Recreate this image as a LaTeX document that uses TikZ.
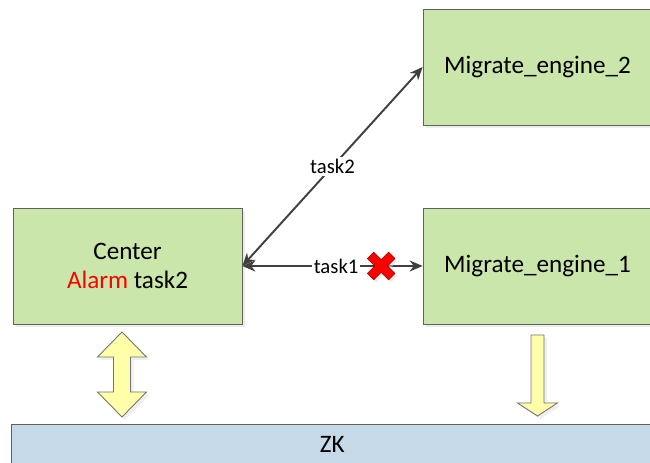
\documentclass[tikz,border=0pt]{standalone}
\usepackage{fontspec}
\setmainfont{Carlito}
\usetikzlibrary{arrows.meta,shadows}
\definecolor{boxgreen}{RGB}{202,230,170}
\definecolor{zkblue}{RGB}{198,217,233}
\definecolor{fatyellow}{RGB}{255,255,170}
\definecolor{linegray}{RGB}{64,64,64}
\definecolor{boxline}{RGB}{95,100,90}
\definecolor{alarmred}{RGB}{255,0,0}

\begin{document}
\begin{tikzpicture}[x=0.2mm,y=-0.2mm,
    box/.style={draw=boxline,fill=boxgreen,minimum width=45.8mm,minimum height=23.2mm,
      drop shadow={shadow xshift=0.6mm,shadow yshift=-0.6mm,fill=black!15},
      font=\fontsize{14.3}{17}\selectfont,align=center},
    zkbar/.style={draw=boxline,fill=zkblue,minimum width=128.4mm,minimum height=8.2mm,
      font=\fontsize{14.3}{17}\selectfont},
    link/.style={draw=linegray,line width=1.1pt,
      {Stealth[length=2.6mm,width=2.2mm]}-{Stealth[length=2.6mm,width=2.2mm]}},
    lbl/.style={fill=white,inner sep=1pt,font=\fontsize{11.8}{13}\selectfont},
    fat/.style={draw=black!55,fill=fatyellow,line width=0.5pt,
      drop shadow={shadow xshift=0.6mm,shadow yshift=-0.6mm,fill=black!12}}]
  \useasboundingbox (0,0) rectangle (650,463);
  % boxes
  \node[box] (center) at (127.5,266) {Center\\\textcolor{alarmred}{Alarm} task2};
  \node[box] (me2) at (537.5,67) {Migrate\_engine\_2};
  \node[box] (me1) at (537.5,266) {Migrate\_engine\_1};
  \node[zkbar,anchor=north west] (zk) at (11,424) {ZK};
  % tasks
  \draw[link] (center.east) -- node[lbl,pos=0.52] {task1} coordinate[pos=0.77] (cut) (me1.west);
  \draw[link] (center.east) -- node[lbl] {task2} (me2.west);
  \draw[draw=red!55!black,fill=red,line width=0.3pt,
      drop shadow={shadow xshift=0.5mm,shadow yshift=-0.5mm,fill=black!15},
      shift={(cut)},rotate=45]
    (-4.5,-15) -- (4.5,-15) -- (4.5,-4.5) -- (15,-4.5) -- (15,4.5) -- (4.5,4.5)
    -- (4.5,15) -- (-4.5,15) -- (-4.5,4.5) -- (-15,4.5) -- (-15,-4.5) -- (-4.5,-4.5) -- cycle;
  % zk arrows
  \draw[fat] (122,332) -- (146.5,357) -- (130.5,357) -- (130.5,392) -- (146.5,392) -- (122,417)
    -- (97.5,392) -- (113.5,392) -- (113.5,357) -- (97.5,357) -- cycle;
  \draw[fat] (531,335) -- (544,335) -- (544,403) -- (557.5,403) -- (537.5,416)
    -- (517.5,403) -- (531,403) -- cycle;
\end{tikzpicture}
\end{document}
